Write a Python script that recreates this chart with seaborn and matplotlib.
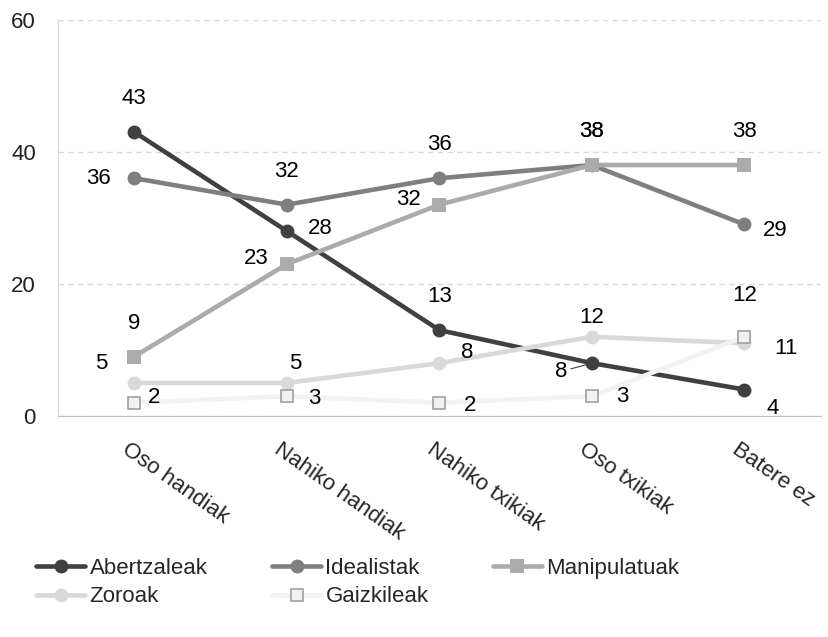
import numpy as np
import pandas as pd
import matplotlib
matplotlib.use("Agg")
import matplotlib.pyplot as plt
import seaborn as sns

sns.set_style("white")
plt.rcParams['font.family'] = ['Liberation Sans', 'DejaVu Sans']

# datuak
kategoriak = ['Oso handiak', 'Nahiko handiak', 'Nahiko txikiak', 'Oso txikiak', 'Batere ez']
abertzaleak = [43, 28, 13, 8, 4]
idealistak = [36, 32, 36, 38, 29]
manipulatuak = [9, 23, 32, 38, 38]
zoroak = [5, 5, 8, 12, 11]
gaizkileak = [2, 3, 2, 3, 12]

serieak = {
    'Abertzaleak': abertzaleak,
    'Idealistak': idealistak,
    'Manipulatuak': manipulatuak,
    'Zoroak': zoroak,
    'Gaizkileak': gaizkileak,
}

# estiloak
koloreak = {'Abertzaleak': '#404040', 'Idealistak': '#7f7f7f', 'Manipulatuak': '#ababab',
            'Zoroak': '#d9d9d9', 'Gaizkileak': '#f2f2f2'}
markak = {'Abertzaleak': 'o', 'Idealistak': 'o', 'Manipulatuak': 's', 'Zoroak': 'o', 'Gaizkileak': 's'}

# etiketen kokapena (offset puntutan)
offsetak = {
    'Abertzaleak': [(0, 24), (24, 2), (0, 24), (-22, -6), (20, -14)],
    'Idealistak': [(-26, 0), (0, 24), (0, 24), (0, 24), (22, -4)],
    'Manipulatuak': [(0, 24), (-22, 4), (-22, 4), (0, 24), (0, 24)],
    'Zoroak': [(-24, 14), (6, 14), (20, 8), (0, 14), (30, -4)],
    'Gaizkileak': [(14, 4), (20, -2), (22, -2), (22, 0), (0, 30)],
}

df = pd.DataFrame([
    {'kategoria': k, 'balioa': v, 'taldea': izena}
    for izena, balioak in serieak.items()
    for k, v in zip(kategoriak, balioak)
])

fig = plt.figure(figsize=(8.29, 6.37), dpi=100)
ax = fig.add_axes([0.07, 0.347, 0.92, 0.622])

for izena in serieak:
    d = df[df['taldea'] == izena]
    if izena == 'Gaizkileak':
        sns.lineplot(data=d, x='kategoria', y='balioa', ax=ax, color=koloreak[izena],
                     marker='s', markersize=9, markerfacecolor='#f2f2f2',
                     markeredgecolor='#a0a0a0', markeredgewidth=1.2, linewidth=3.3,
                     label=izena, sort=False)
    else:
        sns.lineplot(data=d, x='kategoria', y='balioa', ax=ax, color=koloreak[izena],
                     marker=markak[izena], markersize=10, markeredgewidth=0,
                     linewidth=3.3, label=izena, sort=False)

for izena, balioak in serieak.items():
    for i, (k, v) in enumerate(zip(kategoriak, balioak)):
        dx, dy = offsetak[izena][i]
        ap = None
        if izena == 'Abertzaleak' and i == 3:
            ap = dict(arrowstyle='-', color='#404040', lw=0.8, shrinkA=0, shrinkB=3)
        ax.annotate(str(v), xy=(i, v), xytext=(dx, dy), textcoords='offset points',
                    ha='center', va='center', fontsize=16, color='black', arrowprops=ap)

ax.set_xlim(-0.5, 4.5)
ax.set_ylim(0, 60)
ax.set_yticks([0, 20, 40, 60])
ax.set_xlabel('')
ax.set_ylabel('')
ax.yaxis.grid(True, linestyle=(0, (4, 3)), color='#d9d9d9', linewidth=1)
ax.set_axisbelow(True)
for s in ['top', 'right']:
    ax.spines[s].set_visible(False)
ax.spines['left'].set_color('#d9d9d9')
ax.spines['bottom'].set_color('#bfbfbf')
ax.tick_params(axis='y', length=0, labelsize=16, pad=16, labelcolor='#222222')

# x ardatzeko marrak kategorien artean
ax.set_xticks(np.arange(-0.5, 5, 1), minor=False)
ax.set_xticklabels([])
ax.tick_params(axis='x', length=8, color='#bfbfbf', width=1)
for i, k in enumerate(kategoriak):
    ax.text(i - 0.03, -3.5, k, rotation=-35, rotation_mode='anchor', ha='left', va='top',
            fontsize=16, transform=ax.transData)

# legenda: errenkadaka ordenatuta
h, l = ax.get_legend_handles_labels()
ordena = [0, 3, 1, 4, 2]
ax.legend([h[j] for j in ordena], [l[j] for j in ordena], loc='upper left',
          bbox_to_anchor=(-0.04, -0.335), ncol=3, frameon=False,
          fontsize=16, handlelength=2.2, columnspacing=2.9, handletextpad=0.2,
          labelspacing=0.35, borderaxespad=0)

fig.savefig('out.png', dpi=100)
